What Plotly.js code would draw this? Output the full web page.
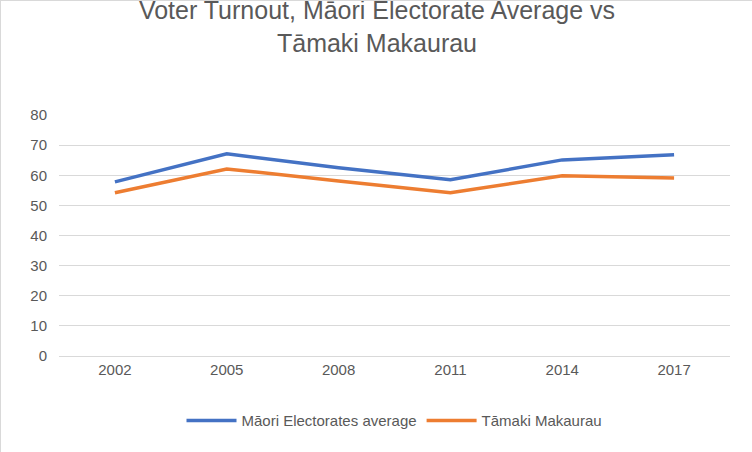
<!DOCTYPE html>
<html><head><meta charset="utf-8">
<script src="https://cdn.plot.ly/plotly-3.0.1.min.js"></script>
<style>body{margin:0}#c{width:752px;height:452px;border:1px solid #d9d9d9;box-sizing:border-box}</style>
</head><body><div id="c"></div>
<script>
const YEARS = ["2002", "2005", "2008", "2011", "2014", "2017"];
const MAORI_AVG = [57.8, 67.1, 62.5, 58.5, 65.1, 66.8];
const TAMAKI = [54.2, 62.1, 58.1, 54.2, 59.8, 59.1];
const TEXT = "#595959";

const traces = [
  { x: YEARS, y: MAORI_AVG, mode: "lines", name: "Māori Electorates average", line: { color: "#4472c4", width: 3.5 } },
  { x: YEARS, y: TAMAKI, mode: "lines", name: "Tāmaki Makaurau", line: { color: "#ed7d31", width: 3.5 } },
];
const layout = {
  width: 752, height: 452,
  paper_bgcolor: "#fff", plot_bgcolor: "#fff",
  font: { family: "Liberation Sans, Arial, sans-serif", color: TEXT, size: 15 },
  title: { text: "Voter Turnout, Māori Electorate Average vs<br>Tāmaki Makaurau", font: { size: 25, color: TEXT }, x: 0.5, xanchor: "center", y: 0.96, yanchor: "top" },
  margin: { l: 58, r: 23, t: 114, b: 97 },
  xaxis: { type: "category", showgrid: false, showline: true, linecolor: "#d9d9d9", ticks: "", range: [-0.5, 5.5], tickfont: { size: 15 } },
  yaxis: { range: [0, 80], dtick: 10, gridcolor: "#d9d9d9", zeroline: false, showline: false, ticklen: 8, ticks: "outside", tickcolor: "rgba(0,0,0,0)", tickfont: { size: 15 } },
  showlegend: true,
  legend: { orientation: "h", x: 0.5, xanchor: "center", y: -0.2, yanchor: "top", itemwidth: 50, font: { size: 15, color: TEXT } },
};
Plotly.newPlot("c", traces, layout, { displayModeBar: false });
</script></body></html>
